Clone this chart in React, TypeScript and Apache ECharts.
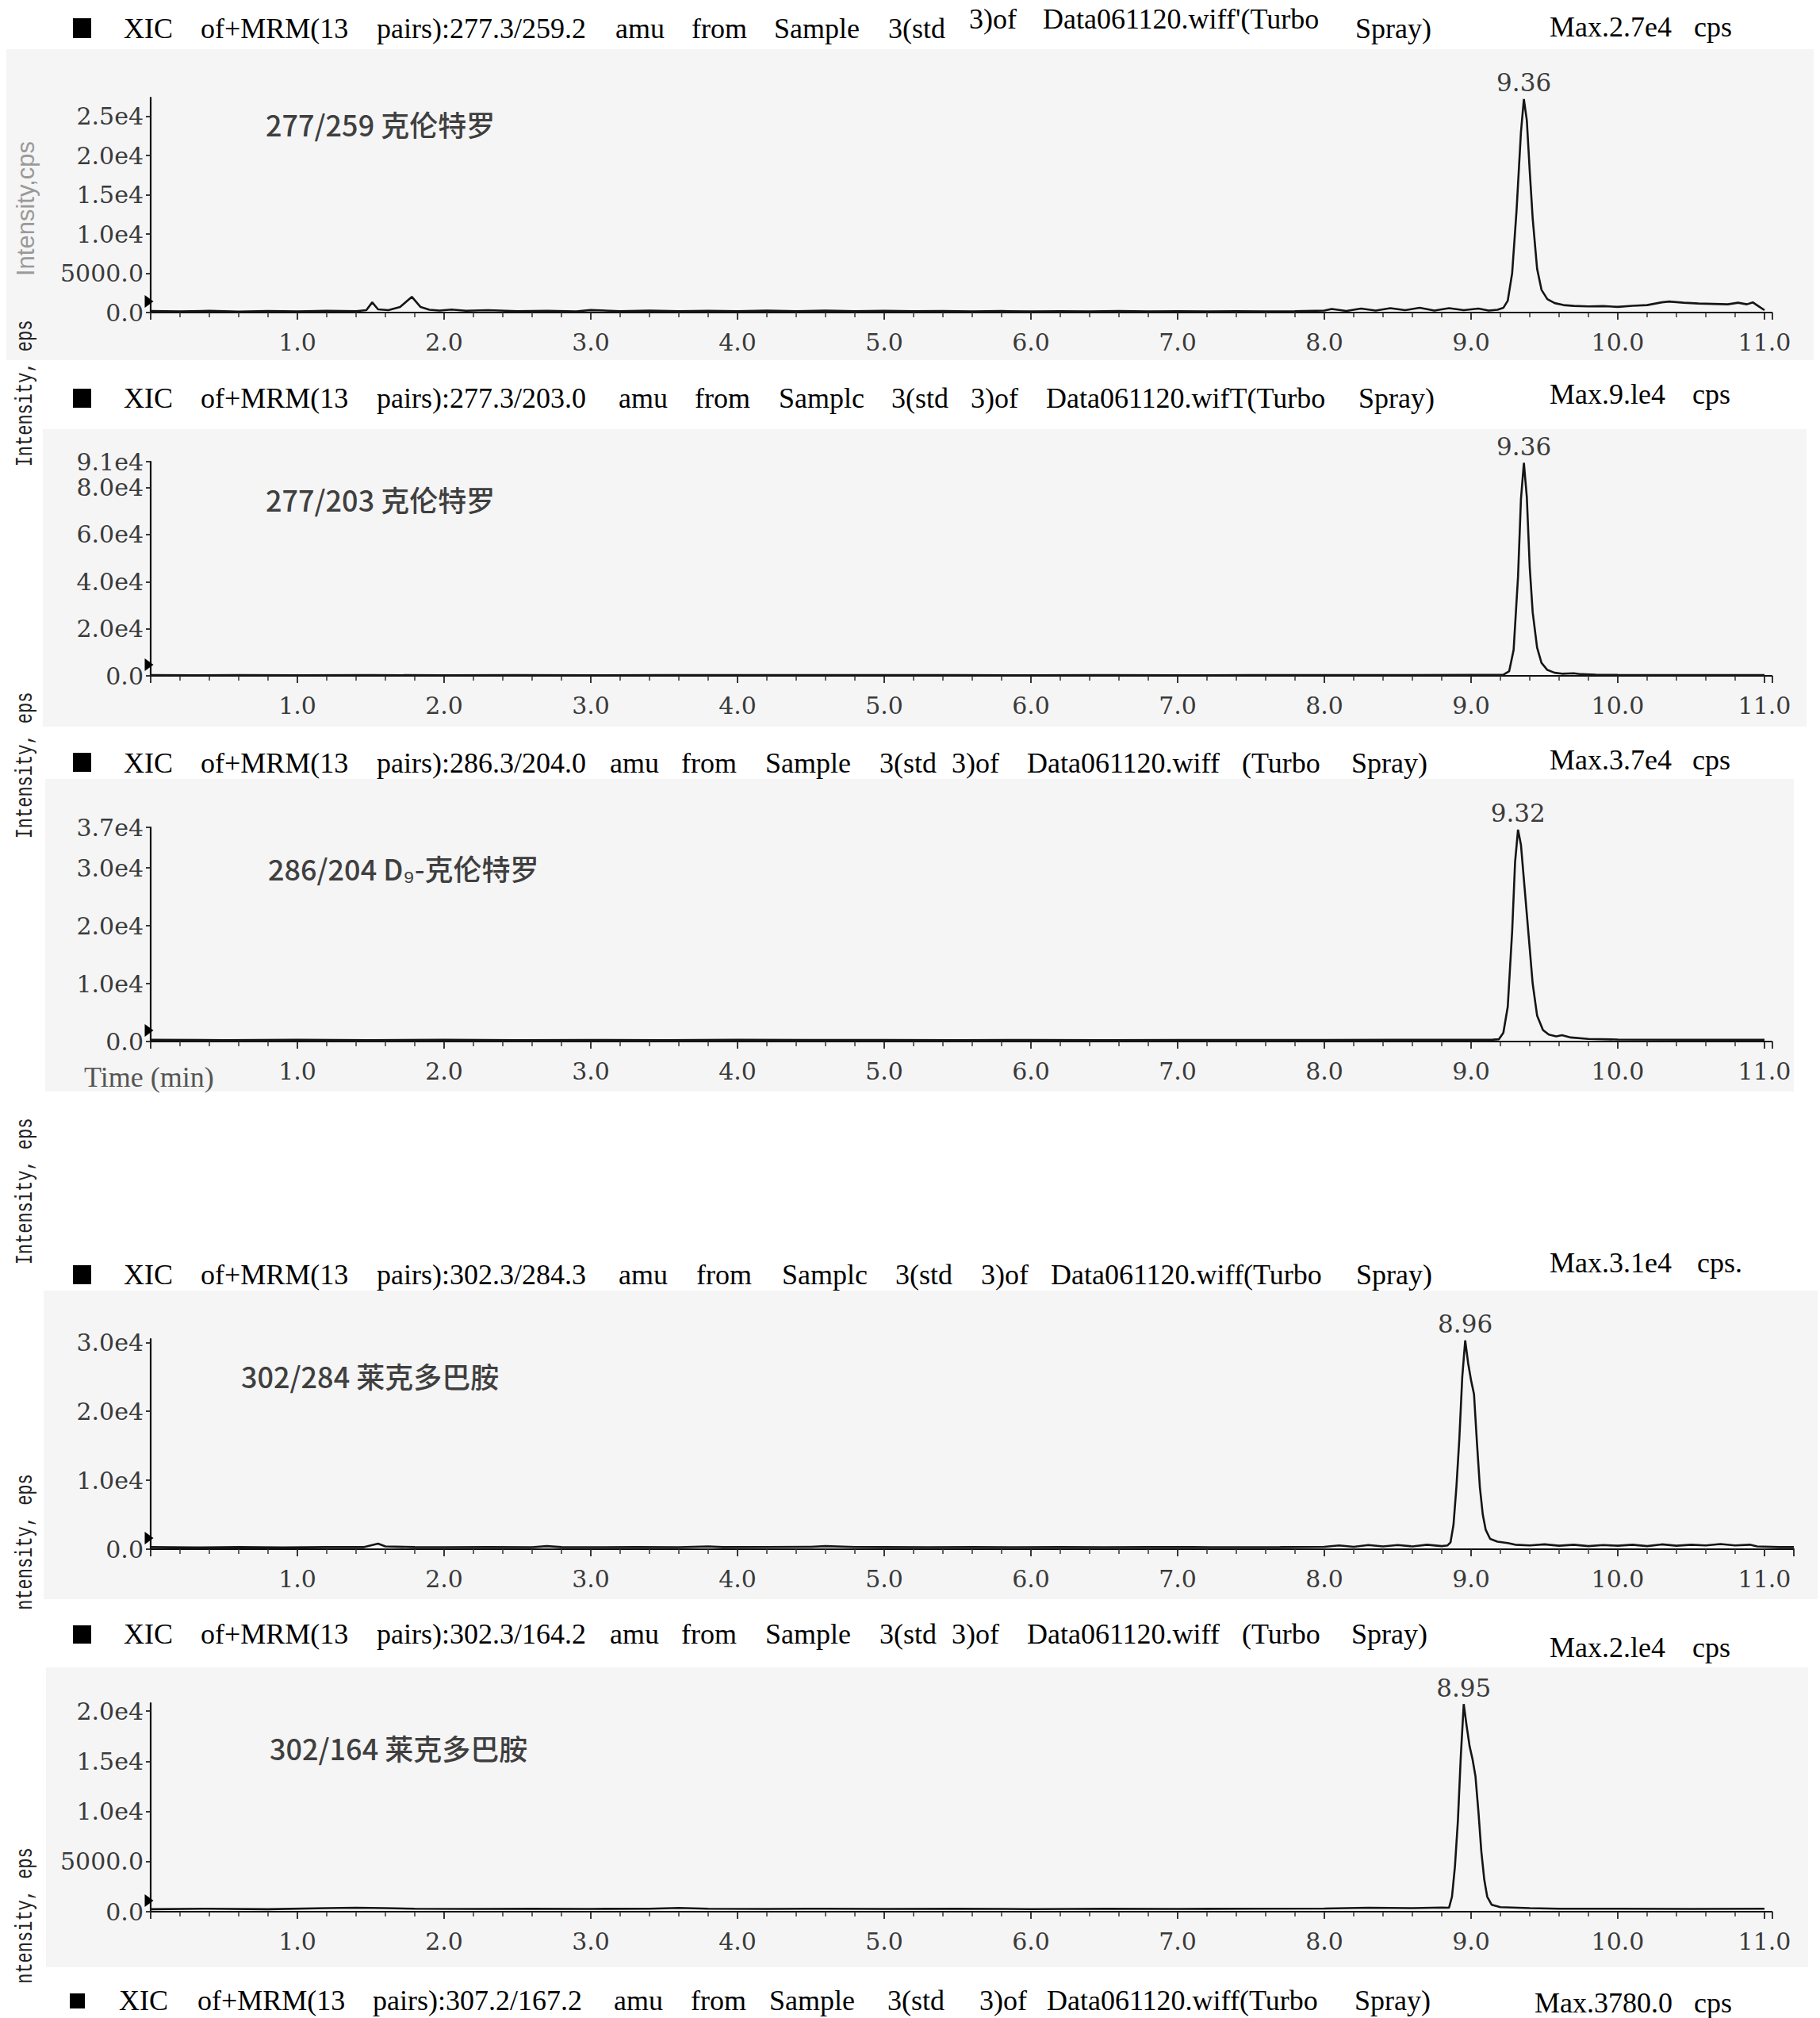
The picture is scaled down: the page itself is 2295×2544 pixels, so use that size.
import React, { useEffect, useRef } from "react";
import * as echarts from "echarts";

// ---------------- data ----------------
// [time (min), intensity (cps)]
const CH1_277_259: [number, number][] = [
  [0.0, 200], [0.2, 150], [0.4, 220], [0.6, 130], [0.8, 200], [1.0, 150], [1.2, 230], [1.4, 170],
  [1.47, 300], [1.51, 1300], [1.55, 400], [1.62, 300], [1.7, 700], [1.78, 2000], [1.84, 700],
  [1.9, 350], [1.97, 250], [2.05, 380], [2.15, 220], [2.3, 300], [2.5, 180], [2.7, 230], [2.9, 150],
  [3.0, 320], [3.2, 180], [3.4, 250], [3.6, 160], [3.8, 230], [4.0, 170], [4.2, 250], [4.4, 180],
  [4.6, 240], [4.8, 170], [5.0, 220], [5.2, 160], [5.4, 200], [5.6, 150], [5.8, 190], [6.0, 140],
  [6.2, 180], [6.4, 150], [6.6, 190], [6.8, 140], [7.0, 180], [7.2, 150], [7.4, 170], [7.6, 140],
  [7.8, 160], [8.0, 250], [8.05, 450], [8.15, 200], [8.25, 500], [8.35, 250], [8.45, 550], [8.55, 300],
  [8.65, 600], [8.75, 250], [8.85, 550], [8.95, 300], [9.05, 500], [9.12, 250], [9.18, 350],
  [9.22, 600], [9.25, 1500], [9.28, 5000], [9.31, 13000], [9.34, 23000], [9.36, 27200], [9.38, 24500],
  [9.4, 18000], [9.42, 12000], [9.45, 5600], [9.48, 2900], [9.52, 1700], [9.57, 1200], [9.63, 950],
  [9.7, 850], [9.8, 780], [9.9, 820], [10.0, 720], [10.1, 860], [10.2, 950], [10.3, 1300], [10.35, 1400],
  [10.45, 1250], [10.55, 1150], [10.65, 1100], [10.75, 1050], [10.82, 1250], [10.88, 1050], [10.92, 1300],
  [10.96, 800], [11.0, 300],
];
const CH2_277_203: [number, number][] = [
  [0.0, 300], [0.3, 250], [0.6, 300], [1.0, 250], [1.5, 300], [2.0, 250], [2.5, 300], [3.0, 250],
  [3.5, 300], [4.0, 280], [4.5, 320], [5.0, 280], [5.5, 300], [6.0, 260], [6.5, 300], [7.0, 260],
  [7.5, 300], [8.0, 320], [8.5, 350], [9.0, 380], [9.15, 400],
  [9.22, 500], [9.26, 2000], [9.29, 11000], [9.32, 42000], [9.34, 75000], [9.36, 90500], [9.38, 76000],
  [9.4, 46000], [9.42, 27000], [9.45, 12000], [9.48, 5500], [9.52, 2500], [9.57, 1300], [9.62, 900],
  [9.7, 1100], [9.75, 700], [9.85, 500], [10.0, 400], [10.5, 350], [11.0, 300],
];
const CH3_286_204: [number, number][] = [
  [0.0, 300], [0.5, 250], [1.0, 300], [1.5, 250], [2.0, 300], [2.5, 250], [3.0, 280], [3.5, 250],
  [4.0, 300], [4.5, 260], [5.0, 280], [5.5, 250], [6.0, 270], [6.5, 250], [7.0, 280], [7.5, 260],
  [8.0, 280], [8.5, 300], [9.0, 300], [9.15, 320],
  [9.19, 400], [9.22, 1500], [9.25, 6000], [9.28, 19000], [9.3, 31000], [9.32, 36600], [9.34, 34000],
  [9.36, 28000], [9.38, 22000], [9.4, 16000], [9.42, 10000], [9.45, 4500], [9.49, 2000], [9.53, 1200],
  [9.58, 900], [9.62, 1100], [9.68, 700], [9.8, 450], [10.0, 350], [10.5, 300], [11.0, 300],
];
const CH4_302_284: [number, number][] = [
  [0.0, 300], [0.3, 250], [0.6, 300], [0.9, 250], [1.2, 300], [1.45, 300], [1.5, 550], [1.55, 800],
  [1.6, 400], [1.8, 300], [2.0, 280], [2.3, 300], [2.6, 280], [2.7, 450], [2.8, 300], [3.0, 280],
  [3.3, 320], [3.6, 280], [3.8, 400], [3.9, 300], [4.2, 320], [4.5, 350], [4.6, 450], [4.8, 320],
  [5.0, 300], [5.3, 280], [5.6, 300], [5.9, 280], [6.2, 300], [6.5, 280], [6.8, 320], [7.1, 300],
  [7.4, 280], [7.7, 300], [8.0, 350], [8.1, 550], [8.2, 350], [8.3, 600], [8.4, 400], [8.5, 600],
  [8.6, 400], [8.7, 650], [8.8, 450], [8.84, 550],
  [8.86, 1000], [8.88, 3500], [8.9, 9000], [8.92, 16000], [8.94, 25000], [8.96, 30300], [8.98, 27000],
  [9.0, 24500], [9.02, 22500], [9.04, 15500], [9.06, 9000], [9.08, 5000], [9.1, 2800], [9.13, 1500],
  [9.18, 1100], [9.25, 900], [9.3, 650], [9.4, 550], [9.5, 700], [9.6, 500], [9.7, 650], [9.8, 450],
  [9.9, 600], [10.0, 500], [10.1, 650], [10.2, 450], [10.3, 700], [10.4, 500], [10.5, 650], [10.6, 550],
  [10.7, 750], [10.8, 550], [10.9, 650], [10.95, 400], [11.1, 300], [11.2, 300],
];
const CH5_302_164: [number, number][] = [
  [0.0, 250], [0.4, 300], [0.8, 250], [1.2, 350], [1.4, 400], [1.6, 350], [1.8, 300], [2.2, 280],
  [2.6, 300], [3.0, 280], [3.4, 300], [3.6, 380], [3.8, 300], [4.2, 280], [4.6, 300], [5.0, 280],
  [5.5, 300], [6.0, 260], [6.5, 300], [7.0, 280], [7.5, 300], [8.0, 320], [8.3, 400], [8.6, 350],
  [8.8, 420], [8.85, 400],
  [8.87, 1500], [8.89, 4500], [8.91, 9000], [8.93, 15500], [8.95, 20700], [8.97, 18500], [8.99, 16500],
  [9.01, 15200], [9.03, 13500], [9.05, 10000], [9.07, 6000], [9.09, 3200], [9.11, 1500], [9.14, 700],
  [9.2, 450], [9.4, 350], [9.6, 300], [10.0, 300], [10.5, 280], [11.0, 300],
];
const CHROMATOGRAMS = [CH1_277_259, CH2_277_203, CH3_286_204, CH4_302_284, CH5_302_164];

const PEAK_LABELS = ["9.36", "9.36", "9.32", "8.96", "8.95"];
const COMPOUNDS = ["277/259 克伦特罗", "277/203 克伦特罗", "286/204 D₉-克伦特罗", "302/284 莱克多巴胺", "302/164 莱克多巴胺"];

const Y_TICKS = [
  [0, 5000, 10000, 15000, 20000, 25000],
  [0, 20000, 40000, 60000, 80000, 91000],
  [0, 10000, 20000, 30000, 37000],
  [0, 10000, 20000, 30000],
  [0, 5000, 10000, 15000, 20000],
];
const Y_TICK_LABELS = [
  ["0.0", "5000.0", "1.0e4", "1.5e4", "2.0e4", "2.5e4"],
  ["0.0", "2.0e4", "4.0e4", "6.0e4", "8.0e4", "9.1e4"],
  ["0.0", "1.0e4", "2.0e4", "3.0e4", "3.7e4"],
  ["0.0", "1.0e4", "2.0e4", "3.0e4"],
  ["0.0", "5000.0", "1.0e4", "1.5e4", "2.0e4"],
];
const Y_MAX = [27400, 91000, 37000, 30500, 20800];
const X_MAX = [11.05, 11.05, 11.05, 11.2, 11.05];

const HEADER_WORDS = [
  ["XIC", "of+MRM(13", "pairs):277.3/259.2", "amu", "from", "Sample", "3(std", "3)of", "Data061120.wiff'(Turbo", "Spray)"],
  ["XIC", "of+MRM(13", "pairs):277.3/203.0", "amu", "from", "Samplc", "3(std", "3)of", "Data061120.wifT(Turbo", "Spray)"],
  ["XIC", "of+MRM(13", "pairs):286.3/204.0", "amu", "from", "Sample", "3(std", "3)of", "Data061120.wiff", "(Turbo", "Spray)"],
  ["XIC", "of+MRM(13", "pairs):302.3/284.3", "amu", "from", "Samplc", "3(std", "3)of", "Data061120.wiff(Turbo", "Spray)"],
  ["XIC", "of+MRM(13", "pairs):302.3/164.2", "amu", "from", "Sample", "3(std", "3)of", "Data061120.wiff", "(Turbo", "Spray)"],
  ["XIC", "of+MRM(13", "pairs):307.2/167.2", "amu", "from", "Sample", "3(std", "3)of", "Data061120.wiff(Turbo", "Spray)"],
];
const MAX_WORDS = [
  ["Max.2.7e4", "cps"],
  ["Max.9.le4", "cps"],
  ["Max.3.7e4", "cps"],
  ["Max.3.1e4", "cps."],
  ["Max.2.le4", "cps"],
  ["Max.3780.0", "cps"],
];
const Y_AXIS_TITLES = ["Intensity,cps", "Intensity, eps", "Intensity, eps", "Intensity, eps", "ntensity, eps", "ntensity, eps"];
const X_AXIS_TITLE = "Time (min)";

// ---------------- layout ----------------
const W = 2295;
const H = 2544;
const X_LEFT = 190;
const PX_PER_MIN = 185;
const PANELS = [
  { top: 123, zero: 394, bg: [8, 62, 2287, 454], note: [335, 156] },
  { top: 582, zero: 852, bg: [54, 541, 2278, 916], note: [335, 629] },
  { top: 1043, zero: 1313, bg: [57, 982, 2262, 1376], note: [338, 1094] },
  { top: 1688, zero: 1953, bg: [55, 1627, 2292, 2016], note: [304, 1734] },
  { top: 2147, zero: 2410, bg: [58, 2102, 2280, 2480], note: [340, 2203] },
];
const HEADER_LAYOUT = [
  { y: 36, maxY: 34, sq: [92, 23, 23, 25], xs: [156, 253, 475, 776, 872, 976, 1120, 1222, 1315, 1709], dy: [0, 0, 0, 0, 0, 0, 0, -12, -12, 0], maxXs: [1954, 2136] },
  { y: 502, maxY: 497, sq: [92, 490, 23, 24], xs: [156, 253, 475, 780, 876, 982, 1124, 1224, 1319, 1713], dy: [], maxXs: [1954, 2134] },
  { y: 962, maxY: 958, sq: [92, 949, 23, 24], xs: [156, 253, 475, 769, 859, 965, 1109, 1200, 1295, 1566, 1704], dy: [], maxXs: [1954, 2134] },
  { y: 1607, maxY: 1592, sq: [92, 1595, 23, 24], xs: [156, 253, 475, 780, 878, 986, 1129, 1237, 1325, 1710], dy: [], maxXs: [1954, 2140] },
  { y: 2060, maxY: 2077, sq: [92, 2049, 23, 23], xs: [156, 253, 475, 769, 859, 965, 1109, 1200, 1295, 1566, 1704], dy: [], maxXs: [1954, 2134] },
  { y: 2522, maxY: 2525, sq: [88, 2513, 19, 19], xs: [150, 249, 470, 774, 871, 970, 1119, 1235, 1320, 1708], dy: [], maxXs: [1935, 2136] },
];
const Y_TITLE_POS = [[32, 263], [33, 496], [33, 965], [33, 1502], [33, 1944], [33, 2415]];
const X_TITLE_POS = [106, 1358];

const SERIF = '"Liberation Serif", "Times New Roman", serif';
const TICK_FONT = '"DejaVu Serif", serif';
const CJK_FONT = '"Noto Sans CJK SC", sans-serif';
const MONO_FONT = '"Liberation Mono", "DejaVu Sans Mono", monospace';

function textEl(text: string, x: number, y: number, font: string, fill: string, align = "left", extra: any = {}) {
  return {
    type: "text",
    x,
    y,
    ...extra,
    style: { text, font, fill, textAlign: align, align, textVerticalAlign: "middle", verticalAlign: "middle" },
  };
}

function buildOption() {
  const grid: any[] = [];
  const xAxis: any[] = [];
  const yAxis: any[] = [];
  const series: any[] = [];
  const graphic: any[] = [];

  PANELS.forEach((p, i) => {
    const height = p.zero - p.top;
    grid.push({ left: X_LEFT, top: p.top, width: X_MAX[i] * PX_PER_MIN, height, containLabel: false });
    xAxis.push({
      gridIndex: i,
      type: "value",
      min: 0,
      max: X_MAX[i],
      interval: 1,
      axisLine: { show: true, onZero: false, lineStyle: { color: "#111", width: 2.2 } },
      axisTick: { show: true, length: 9, lineStyle: { color: "#222", width: 1.8 } },
      minorTick: { show: true, splitNumber: 5, length: 6, lineStyle: { color: "#333", width: 1.5 } },
      splitLine: { show: false },
      minorSplitLine: { show: false },
      axisLabel: {
        margin: 22,
        fontSize: 30,
        fontFamily: TICK_FONT,
        color: "#3a3a3a",
        formatter: (v: number) => (v > 0.5 && Math.abs(v - Math.round(v)) < 1e-6 ? v.toFixed(1) : ""),
      },
    });
    const ticks = Y_TICKS[i];
    const labels = Y_TICK_LABELS[i];
    yAxis.push({
      gridIndex: i,
      type: "value",
      min: 0,
      max: Y_MAX[i],
      axisLine: { show: true, lineStyle: { color: "#111", width: 2.2 } },
      axisTick: { show: true, length: 6, customValues: ticks, lineStyle: { color: "#222", width: 1.8 } },
      splitLine: { show: false },
      axisLabel: {
        customValues: ticks,
        margin: 9,
        fontSize: 30,
        fontFamily: TICK_FONT,
        color: "#3a3a3a",
        formatter: (v: number) => {
          const k = ticks.findIndex((t) => Math.abs(t - v) < 1e-6);
          return k >= 0 ? labels[k] : "";
        },
      },
    });
    const data = CHROMATOGRAMS[i];
    const apex = data.reduce((a, b) => (b[1] > a[1] ? b : a));
    const markerV = (14 * Y_MAX[i]) / height;
    series.push({
      type: "line",
      xAxisIndex: i,
      yAxisIndex: i,
      data,
      symbol: "none",
      showSymbol: false,
      lineStyle: { color: "#151515", width: 2.6 },
      z: 3,
      markPoint: {
        data: [
          {
            coord: apex,
            symbol: "circle",
            symbolSize: 2,
            itemStyle: { color: "rgba(0,0,0,0)" },
            label: { show: true, position: "top", distance: 4, formatter: PEAK_LABELS[i], color: "#3c3c3c", fontSize: 31, fontFamily: TICK_FONT },
          },
          {
            coord: [0, markerV],
            symbol: "triangle",
            symbolRotate: -90,
            symbolSize: [16, 11],
            symbolOffset: [-2, 0],
            itemStyle: { color: "#000" },
            label: { show: false },
          },
        ],
      },
    });

    // background panel
    const [x1, y1, x2, y2] = p.bg;
    graphic.push({ type: "rect", z: -1, shape: { x: x1, y: y1, width: x2 - x1, height: y2 - y1 }, style: { fill: "#f5f5f5" } });
    // compound annotation
    graphic.push(textEl(COMPOUNDS[i], p.note[0], p.note[1], `500 36px ${CJK_FONT}`, "#3f3f3f"));
  });

  // headers
  HEADER_WORDS.forEach((words, h) => {
    const L = HEADER_LAYOUT[h];
    graphic.push({ type: "rect", shape: { x: L.sq[0], y: L.sq[1], width: L.sq[2], height: L.sq[3] }, style: { fill: "#000" } });
    words.forEach((w, k) => {
      graphic.push(textEl(w, L.xs[k], L.y + (L.dy[k] || 0), `36px ${SERIF}`, "#000"));
    });
    MAX_WORDS[h].forEach((w, k) => {
      graphic.push(textEl(w, L.maxXs[k], L.maxY, `36px ${SERIF}`, "#000"));
    });
  });

  // rotated intensity titles
  Y_AXIS_TITLES.forEach((t, k) => {
    const [x, y] = Y_TITLE_POS[k];
    if (k === 0) {
      graphic.push(textEl(t, x, y, `31px "Liberation Sans", Arial, sans-serif`, "#9a9a9a", "center", { rotation: Math.PI / 2 }));
    } else {
      graphic.push(textEl(t, x, y, `22px ${MONO_FONT}`, "#222", "center", { rotation: Math.PI / 2, scaleY: 1.3 }));
    }
  });

  graphic.push(textEl(X_AXIS_TITLE, X_TITLE_POS[0], X_TITLE_POS[1], `36px ${SERIF}`, "#555"));

  return {
    animation: false,
    backgroundColor: "#ffffff",
    grid,
    xAxis,
    yAxis,
    series,
    graphic: { elements: graphic },
  };
}

export default function App() {
  const ref = useRef<HTMLDivElement>(null);
  useEffect(() => {
    if (!ref.current) return;
    const chart = echarts.init(ref.current, undefined, { renderer: "svg" });
    chart.setOption(buildOption() as any);
    return () => chart.dispose();
  }, []);
  return <div ref={ref} style={{ position: "absolute", left: 0, top: 0, width: W, height: H, background: "#fff" }} />;
}
